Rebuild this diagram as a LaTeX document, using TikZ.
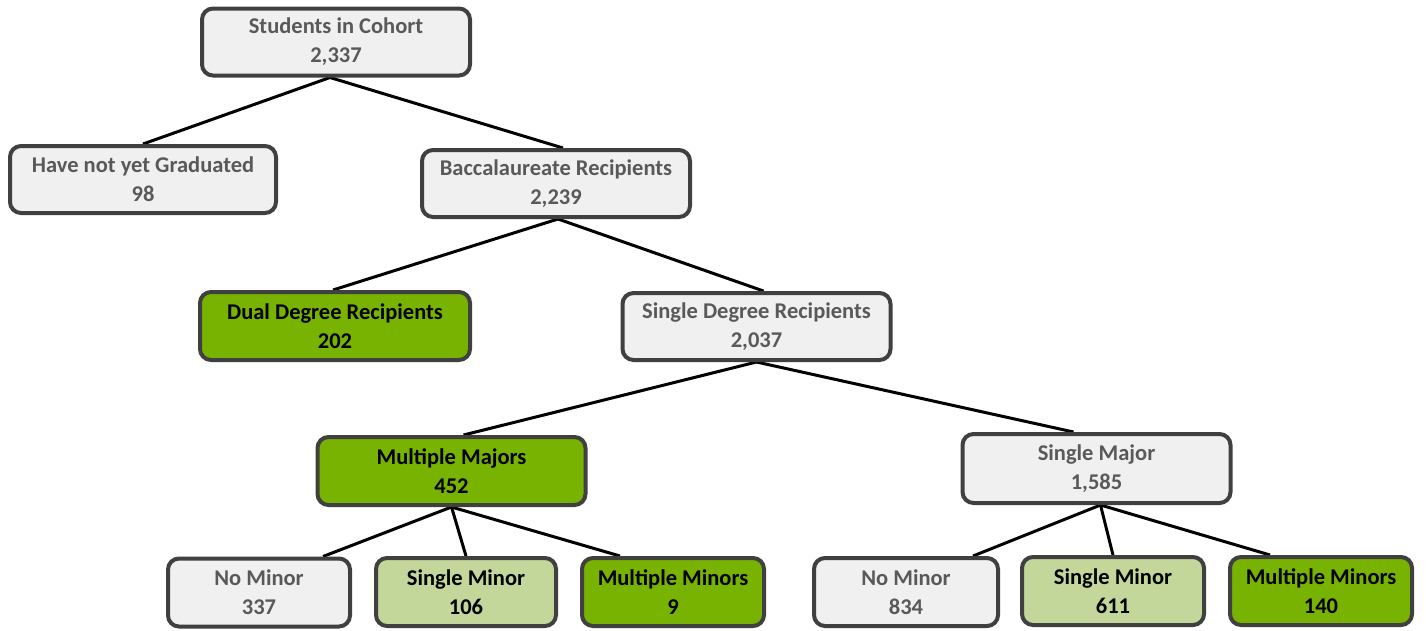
\documentclass[tikz,border=0pt]{standalone}
\usepackage{fontspec}
\setmainfont{Carlito}
\usetikzlibrary{calc,backgrounds}
\definecolor{boxline}{HTML}{404040}
\definecolor{greyfill}{HTML}{F0F0F0}
\definecolor{greytext}{HTML}{595959}
\definecolor{darkgreen}{HTML}{77B300}
\definecolor{palegreen}{HTML}{C4D79B}
\tikzset{
  box/.style={draw=boxline, line width=4pt, rounded corners=11pt,
    align=center, inner sep=0pt,
    font=\bfseries\fontsize{22.5}{29}\selectfont},
  wide/.style={box, minimum width=268pt, minimum height=67pt},
  narrow/.style={box, minimum width=182pt, minimum height=68pt},
  plain/.style={fill=greyfill, text=greytext},
  strong/.style={fill=darkgreen, text=black},
  mild/.style={fill=palegreen, text=black},
  link/.style={draw=black, line width=3pt}
}
\begin{document}
\begin{tikzpicture}[x=1pt, y=-1pt]
\useasboundingbox (0,0) rectangle (1426,630);

% level 1 and 2
\node[wide, plain] (cohort) at (336,42) {Students in Cohort\\2,337};
\node[wide, plain, minimum width=266pt] (notgrad) at (143,179.5) {Have not yet Graduated\\98};
\node[wide, plain] (bacc) at (556,183.5) {Baccalaureate Recipients\\2,239};

% level 3
\node[wide, strong, minimum width=270pt, minimum height=68pt] (dual) at (335,326) {Dual Degree Recipients\\202};
\node[wide, plain] (single) at (756.5,326.5) {Single Degree Recipients\\2,037};

% level 4
\node[wide, strong, minimum height=68pt] (multmaj) at (451.5,471) {Multiple Majors\\452};
\node[wide, plain, minimum height=69pt] (singmaj) at (1096.5,468.5) {Single Major\\1,585};

% level 5, under Multiple Majors
\node[narrow, plain] (nominL) at (259,592.5) {No Minor\\337};
\node[narrow, mild, minimum width=180pt] (sminL) at (466,592) {Single Minor\\106};
\node[narrow, strong] (mminL) at (673,592) {Multiple Minors\\9};

% level 5, under Single Major
\node[narrow, plain, minimum width=184pt] (nominR) at (906,592) {No Minor\\834};
\node[narrow, mild] (sminR) at (1113,591) {Single Minor\\611};
\node[narrow, strong] (mminR) at (1321,591) {Multiple Minors\\140};

% connectors
\begin{scope}[on background layer]
\draw[link] ($(cohort.south)+(-6,0)$) -- (notgrad.north);
\draw[link] ($(cohort.south)+(-6,0)$) -- ($(bacc.north)+(7,0)$);
\draw[link] ($(bacc.south)+(2,0)$) -- ($(dual.north)+(-2,0)$);
\draw[link] ($(bacc.south)+(2,0)$) -- ($(single.north)+(7,0)$);
\draw[link] (single.south) -- ($(multmaj.north)+(12,0)$);
\draw[link] (single.south) -- ($(singmaj.north)+(-23,0)$);
\draw[link] (multmaj.south) -- ($(nominL.north)+(64,0)$);
\draw[link] (multmaj.south) -- (sminL.north);
\draw[link] (multmaj.south) -- ($(mminL.north)+(-53,0)$);
\draw[link] ($(singmaj.south)+(4,0)$) -- ($(nominR.north)+(67,0)$);
\draw[link] ($(singmaj.south)+(4,0)$) -- (sminR.north);
\draw[link] ($(singmaj.south)+(4,0)$) -- ($(mminR.north)+(-51,0)$);
\end{scope}
\end{tikzpicture}
\end{document}
